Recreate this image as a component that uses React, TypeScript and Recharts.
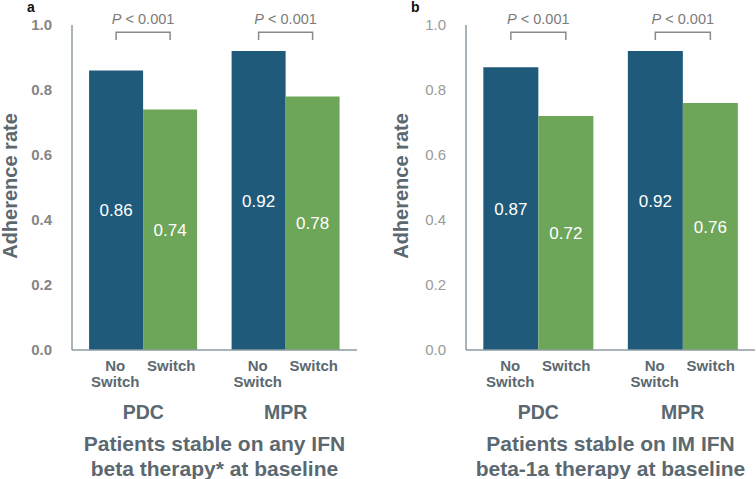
import React from 'react';
import { BarChart, Bar, XAxis, YAxis, LabelList } from 'recharts';

const categories = ['PDC', 'MPR'];
const noSwitchA = [0.86, 0.92];
const switchA = [0.74, 0.78];
const noSwitchB = [0.87, 0.92];
const switchB = [0.72, 0.76];
const pLabels = ['< 0.001', '< 0.001'];
const yTicks = [0, 0.2, 0.4, 0.6, 0.8, 1.0];
const barNames = ['No Switch', 'Switch'];
const titleA = ['Patients stable on any IFN', 'beta therapy* at baseline'];
const titleB = ['Patients stable on IM IFN', 'beta-1a therapy at baseline'];

const BLUE = '#1f5a7b';
const GREEN = '#6da559';
const AXIS = '#8d9ba3';
const TEXT = '#5b6870';
const FONT = '"Liberation Sans", Arial, sans-serif';

const buildData = (ns: number[], sw: number[]) =>
  categories.map((c, i) => ({ cat: c, noSwitch: ns[i], switch: sw[i], p: pLabels[i] }));

const NoSwitchShape = (props: any) => {
  const { x, y, width, height, payload } = props;
  const v = payload.noSwitch;
  const zero = y + height;
  const k = height / v;
  const yAt = (val: number) => zero - val * k;
  const x1 = x + width / 2;
  const x2 = x + width * 1.5;
  const yb = yAt(0.978);
  const yt = yAt(0.954);
  return (
    <g>
      <rect x={x} y={y} width={width} height={height} fill={BLUE} />
      <path d={`M${x1},${yt}V${yb}H${x2}V${yt}`} stroke="#8a8a8a" strokeWidth={1.5} fill="none" />
      <text x={(x1 + x2) / 2} y={yAt(1.004)} textAnchor="middle" fontSize={14.5} fill="#7b7b7b" fontFamily={FONT}>
        <tspan fontStyle="italic">P</tspan>
        <tspan> {payload.p}</tspan>
      </text>
    </g>
  );
};

const makeTick = (off: number) => (props: any) => {
  const { x, y, payload } = props;
  const lx = x - off;
  const rx = x + off;
  const words = barNames[0].split(' ');
  return (
    <g fontFamily={FONT} fontWeight="bold" fill={TEXT}>
      <text x={lx} y={y + 19} textAnchor="middle" fontSize={15} fill={TEXT}>
        <tspan x={lx}>{words[0]}</tspan>
        <tspan x={lx} dy={16}>{words[1]}</tspan>
      </text>
      <text x={rx} y={y + 19} textAnchor="middle" fontSize={15} fill={TEXT}>
        {barNames[1]}
      </text>
      <text x={x} y={y + 67} textAnchor="middle" fontSize={19.5} fill={TEXT}>
        {payload.value}
      </text>
    </g>
  );
};

type PanelProps = {
  data: any[];
  left: number;
  width: number;
  marginLeft: number;
  marginRight: number;
  tickBold: boolean;
  tickColor: string;
  labelX: number;
  title: string[];
  letter: string;
  letterX: number;
};

const Panel = (p: PanelProps) => {
  const yLabel = (lp: any) => {
    const cy = 186;
    return (
      <text
        x={p.labelX}
        y={cy}
        transform={`rotate(-90 ${p.labelX} ${cy})`}
        textAnchor="middle"
        dominantBaseline="central"
        fontSize={20}
        fontWeight="bold"
        fill={TEXT}
        fontFamily={FONT}
      >
        Adherence rate
      </text>
    );
  };
  const xLabel = (lp: any) => {
    const vb = lp.viewBox || {};
    const cx = vb.x + vb.width / 2;
    return (
      <text textAnchor="middle" fontSize={21} fontWeight="bold" fill={TEXT} fontFamily={FONT}>
        <tspan x={cx} y={451}>{p.title[0]}</tspan>
        <tspan x={cx} y={476}>{p.title[1]}</tspan>
      </text>
    );
  };
  return (
    <div style={{ position: 'absolute', left: p.left, top: 0, width: p.width, height: 479 }}>
      <BarChart
        width={p.width}
        height={479}
        data={p.data}
        margin={{ top: 25, right: p.marginRight, bottom: 0, left: p.marginLeft }}
        barGap={0}
        barCategoryGap="12%"
      >
        <YAxis
          width={60}
          domain={[0, 1]}
          ticks={yTicks}
          tickFormatter={(v: number) => v.toFixed(1)}
          axisLine={{ stroke: AXIS, strokeWidth: 1.5 }}
          tickLine={false}
          tickMargin={14}
          tick={{ fill: p.tickColor, fontSize: 15, fontWeight: p.tickBold ? 'bold' : 'normal', fontFamily: FONT }}
          label={yLabel}
        />
        <XAxis
          dataKey="cat"
          height={129}
          axisLine={{ stroke: AXIS, strokeWidth: 1.5 }}
          tickLine={false}
          tickSize={0}
          tick={makeTick(28)}
          interval={0}
          label={xLabel}
        />
        <Bar dataKey="noSwitch" fill={BLUE} isAnimationActive={false} shape={NoSwitchShape}>
          <LabelList
            dataKey="noSwitch"
            position="center"
            fill="#ffffff"
            fontSize={17}
            fontFamily={FONT}
            formatter={(v: any) => Number(v).toFixed(2)}
          />
        </Bar>
        <Bar dataKey="switch" fill={GREEN} isAnimationActive={false}>
          <LabelList
            dataKey="switch"
            position="center"
            fill="#ffffff"
            fontSize={17}
            fontFamily={FONT}
            formatter={(v: any) => Number(v).toFixed(2)}
          />
        </Bar>
      </BarChart>
      <div
        style={{
          position: 'absolute',
          left: p.letterX,
          top: 0,
          fontFamily: FONT,
          fontWeight: 'bold',
          fontSize: 14,
          lineHeight: '14px',
          color: '#111',
        }}
      >
        {p.letter}
      </div>
    </div>
  );
};

export default function App() {
  return (
    <div style={{ position: 'absolute', left: 0, top: 0, width: 756, height: 479, background: '#fff', overflow: 'hidden' }}>
      <Panel
        data={buildData(noSwitchA, switchA)}
        left={0}
        width={380}
        marginLeft={12}
        marginRight={23}
        tickBold={true}
        tickColor="#858585"
        labelX={10}
        title={titleA}
        letter="a"
        letterX={27}
      />
      <Panel
        data={buildData(noSwitchB, switchB)}
        left={380}
        width={376}
        marginLeft={26}
        marginRight={1}
        tickBold={false}
        tickColor="#9a9a9a"
        labelX={21}
        title={titleB}
        letter="b"
        letterX={31}
      />
    </div>
  );
}
